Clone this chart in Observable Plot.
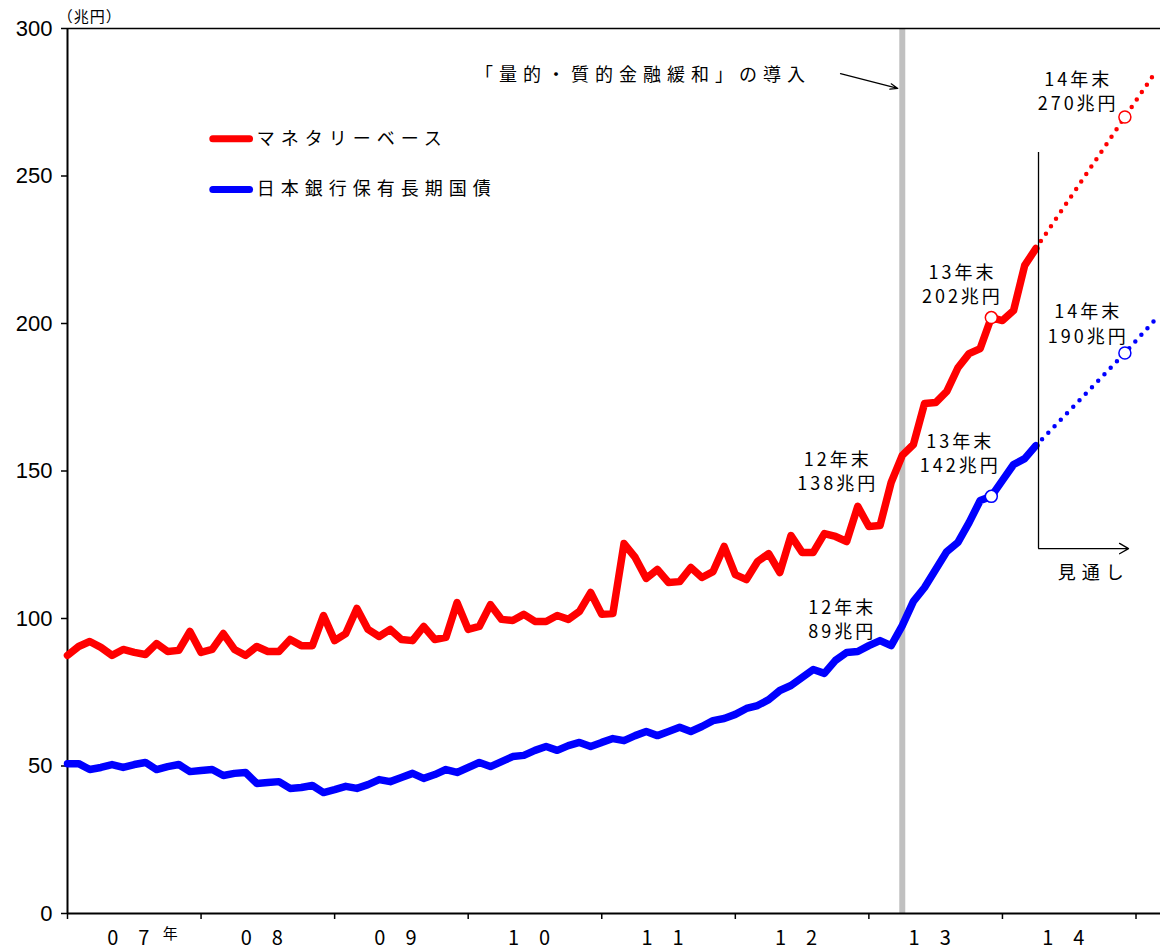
<!DOCTYPE html>
<html><head><meta charset="utf-8">
<script src="https://cdn.jsdelivr.net/npm/d3@7"></script>
<script src="https://cdn.jsdelivr.net/npm/@observablehq/plot@0.6"></script>
<style>
body{margin:0;background:#fff;}
#chart svg{display:block;}
</style>
</head><body><div id="chart"></div>
<script>
// Month index 0 = Jan 2007 ... 87 = Apr 2014
const monetaryBase = [
  87.5, 90.5, 92.2, 90.2, 87.5, 89.5, 88.5, 87.8, 91.5, 88.8, 89.2, 95.6,
  88.5, 89.5, 94.9, 89.5, 87.5, 90.5, 88.8, 88.8, 92.9, 90.8, 90.8, 101,
  92.5, 94.9, 103.4, 96.3, 93.9, 96.3, 92.9, 92.5, 97.3, 92.9, 93.6, 105.4,
  96.3, 97.3, 104.7, 99.7, 99.3, 101.4, 99, 99, 101, 99.7, 102.4, 108.8,
  101.4, 101.7, 125.4, 120.7, 113.6, 116.6, 112.2, 112.5, 117.3, 113.9, 115.9, 124.4,
  114.9, 113.2, 119.3, 122, 115.6, 128.1, 122.4, 122.4, 128.8, 127.8, 126.1, 138,
  131.2, 131.5, 146.1, 155.3, 159, 172.9, 173.2, 177, 185, 189.8, 191.5, 202,
  201, 204.4, 219.7, 225.4
];
const jgbHoldings = [
  50.8, 50.8, 48.8, 49.5, 50.5, 49.5, 50.5, 51.2, 48.8, 49.8, 50.5, 48.1,
  48.5, 48.8, 46.8, 47.5, 47.8, 44.1, 44.4, 44.7, 42.4, 42.7, 43.4, 41,
  42, 43.1, 42.4, 43.7, 45.4, 44.7, 46.1, 47.5, 45.8, 47.1, 48.8, 47.8,
  49.5, 51.2, 49.8, 51.5, 53.2, 53.6, 55.3, 56.6, 55.3, 56.9, 58, 56.6,
  58, 59.3, 58.6, 60.3, 61.7, 60.3, 61.7, 63.1, 61.7, 63.4, 65.4, 66.1,
  67.5, 69.5, 70.5, 72.5, 75.6, 77.3, 80, 82.7, 81.4, 85.8, 88.5, 88.8,
  90.8, 92.5, 90.8, 97.6, 105.8, 110.5, 116.6, 122.7, 125.8, 132.5, 140, 141.4,
  146.8, 152.2, 154.2, 158.6
];
// Projection (見通し)
const projectionMonths = [87, 95, 97.7];
const projectionMonetaryBase = [225.4, 270, 285];
const projectionJgb = [158.6, 190, 201.2];

const seriesNames = ["マネタリーベース", "日本銀行保有長期国債"];
const seriesColors = ["#ff0000", "#0000ff"];
const yearLabels = ["07", "08", "09", "10", "11", "12", "13", "14"];
const yTicks = [0, 50, 100, 150, 200, 250, 300];
const yearTicks = [0, 12, 24, 36, 48, 60, 72, 84, 96];
const qqeMonth = 75; // Apr 2013
const qqeLabel = "「量的・質的金融緩和」の導入";
const markerMonths = [83, 95];
const markerMB = [202, 270];
const markerJGB = [141.4, 190];
const callouts = [
  {m: 69.2, v: 150.2, t: "12年末\n138兆円"},
  {m: 69.6, v: 100.2, t: "12年末\n89兆円"},
  {m: 80.4, v: 213.6, t: "13年末\n202兆円"},
  {m: 80.2, v: 156.3, t: "13年末\n142兆円"},
  {m: 91.7, v: 200.3, t: "14年末\n190兆円"},
  {m: 90.8, v: 279.2, t: "14年末\n270兆円"}
];
const outlookLabel = "見通し";
const unitLabel = "（兆円）";

const jp = "'Noto Sans CJK JP', 'Noto Sans', sans-serif";

const mbRows = monetaryBase.map((v, i) => ({m: i, v}));
const jgbRows = jgbHoldings.map((v, i) => ({m: i, v}));
const projMB = projectionMonths.map((m, i) => ({m, v: projectionMonetaryBase[i]}));
const projJGB = projectionMonths.map((m, i) => ({m, v: projectionJgb[i]}));
const markRed = markerMonths.map((m, i) => ({m, v: markerMB[i]}));
const markBlue = markerMonths.map((m, i) => ({m, v: markerJGB[i]}));
const legendRows = seriesNames.map((name, i) => ({name, color: seriesColors[i], v: [262.6, 245.4][i]}));

const svg = Plot.plot({
  width: 1162,
  height: 951,
  marginLeft: 67,
  marginRight: 2,
  marginTop: 28,
  marginBottom: 38,
  x: {domain: [0, 98.2], axis: null},
  y: {domain: [0, 300], axis: null},
  style: {background: "white", color: "black", fontFamily: "'Liberation Sans', Arial, sans-serif"},
  marks: [
    // QQE vertical band
    Plot.ruleX([qqeMonth], {y1: 0, y2: 300, stroke: "#c0c0c0", strokeWidth: 6}),
    // frame lines
    Plot.ruleY([300], {stroke: "black", strokeWidth: 1.5}),
    Plot.ruleY([0], {stroke: "black", strokeWidth: 2}),
    Plot.ruleX([0], {y1: 0, y2: 300, stroke: "black", strokeWidth: 2}),
    Plot.axisY({ticks: yTicks, tickSize: 6, tickPadding: 9, fontSize: 22, label: null, stroke: "black", strokeWidth: 1.5}),
    Plot.axisX({ticks: yearTicks, tickSize: 6, tickFormat: () => "", label: null, stroke: "black", strokeWidth: 1.5}),
    Plot.text(yearLabels, {x: (d, i) => 12 * i + 6, y: 0, dy: 25, dx: -6, text: d => d[0] + "\u3000" + d[1], fontSize: 20, fontFamily: jp}),
    Plot.text(["年"], {x: 6, y: 0, dy: 21, dx: 36, text: d => d, fontSize: 15, fontFamily: jp}),
    Plot.text([unitLabel], {x: 2, y: 300, dy: -11, text: d => d, fontSize: 15, fontFamily: jp}),
    // series
    Plot.line(mbRows, {x: "m", y: "v", stroke: seriesColors[0], strokeWidth: 7.5, strokeLinejoin: "round", strokeLinecap: "round"}),
    Plot.line(jgbRows, {x: "m", y: "v", stroke: seriesColors[1], strokeWidth: 7.5, strokeLinejoin: "round", strokeLinecap: "round"}),
    Plot.line(projMB, {x: "m", y: "v", stroke: seriesColors[0], strokeWidth: 4.5, strokeDasharray: "0 9", strokeLinecap: "round"}),
    Plot.line(projJGB, {x: "m", y: "v", stroke: seriesColors[1], strokeWidth: 4.5, strokeDasharray: "0 9", strokeLinecap: "round"}),
    Plot.dot(markRed, {x: "m", y: "v", r: 6, fill: "white", stroke: seriesColors[0], strokeWidth: 1.5}),
    Plot.dot(markBlue, {x: "m", y: "v", r: 6, fill: "white", stroke: seriesColors[1], strokeWidth: 1.5}),
    // legend
    Plot.ruleY(legendRows, {y: "v", x1: 13.1, x2: 16.4, stroke: "color", strokeWidth: 7, strokeLinecap: "round"}),
    Plot.text(legendRows, {x: 17.0, y: "v", text: "name", textAnchor: "start", fontSize: 18, fontFamily: jp}),
    // QQE annotation
    Plot.text([qqeLabel], {x: 51.7, y: 284.1, text: d => d, fontSize: 18, fontFamily: jp}),
    Plot.arrow([qqeLabel], {x1: 69.45, y1: 284.7, x2: 74.6, y2: 279.7, stroke: "black", strokeWidth: 1.2, headLength: 10, headAngle: 40}),
    // callouts
    Plot.text(callouts, {x: "m", y: "v", text: "t", fontSize: 18, lineHeight: 1.35, fontFamily: jp}),
    // outlook bracket
    Plot.ruleX([87.24], {y1: 123.7, y2: 258, stroke: "black", strokeWidth: 1.3}),
    Plot.arrow([outlookLabel], {x1: 87.24, y1: 123.7, x2: 95.33, y2: 123.7, stroke: "black", strokeWidth: 1.3, headLength: 12, headAngle: 60}),
    Plot.text([outlookLabel], {x: 92.2, y: 115.3, text: d => d, fontSize: 18, fontFamily: jp})
  ]
});

d3.select(svg).selectAll("text").each(function() {
  const t = this.textContent;
  if (t.includes("年末")) this.setAttribute("letter-spacing", "3px");
  else if (seriesNames.includes(t) || t === qqeLabel) this.setAttribute("letter-spacing", "6px");
  else if (t === outlookLabel) this.setAttribute("letter-spacing", "6px");
  else if (t === unitLabel) this.setAttribute("letter-spacing", "1px");
});

document.getElementById("chart").appendChild(svg);
</script>
</body></html>
